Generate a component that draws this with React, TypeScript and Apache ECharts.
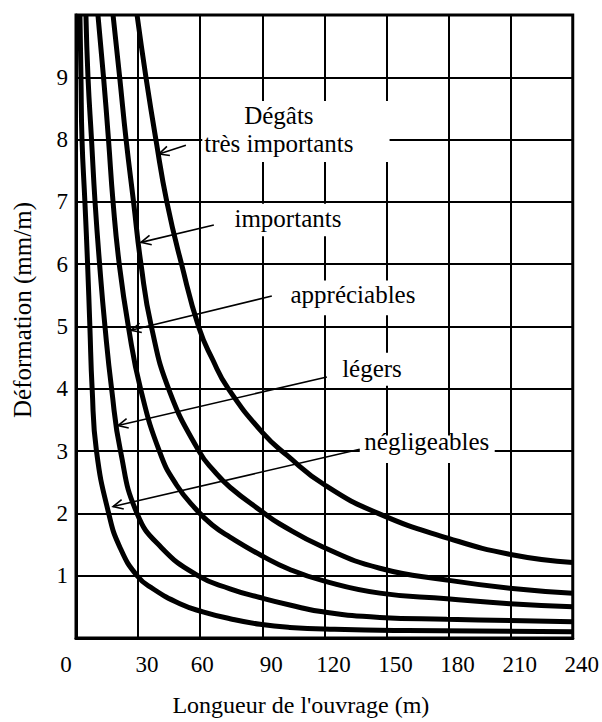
import React, { useEffect, useRef } from "react";
import * as echarts from "echarts";

// ---- Data ----
const xTickValues = [0, 30, 60, 90, 120, 150, 180, 210, 240];
const yTickValues = [1, 2, 3, 4, 5, 6, 7, 8, 9];

const negligeables: [number, number][] = [
  [1.9, 10], [2.4, 9], [2.9, 8], [4.3, 7], [5.6, 6], [6.7, 5], [7.8, 4], [9.9, 3],
  [15.8, 2], [21.3, 1.45], [29.5, 1], [37.2, 0.79], [50.2, 0.55], [61.3, 0.42], [74.4, 0.31],
  [88.9, 0.22], [103.3, 0.17], [125, 0.14], [160, 0.12], [240, 0.1],
];
const legers: [number, number][] = [
  [4.8, 10], [5.8, 9], [7.5, 8], [9.2, 7], [11.4, 6], [14, 5], [17.2, 4], [21.5, 3],
  [29.5, 2], [41.3, 1.45], [58.9, 1], [74.4, 0.79], [88.9, 0.65], [103.3, 0.53], [119.3, 0.42],
  [146.8, 0.33], [179.2, 0.3], [209.6, 0.28], [240, 0.26],
];
const appreciables: [number, number][] = [
  [10.6, 10], [13.3, 9], [15.7, 8], [17.9, 7], [20.9, 6], [25.3, 5], [31.2, 4], [40.6, 2.97],
  [48.5, 2.46], [58.4, 2.05], [66, 1.81], [74.4, 1.62], [89.8, 1.32], [103.3, 1.1], [119.3, 0.92],
  [146.8, 0.72], [179.2, 0.63], [209.6, 0.55], [240, 0.5],
];
const importants: [number, number][] = [
  [17.9, 10], [21.1, 9], [24.2, 8], [27.8, 7], [31.4, 6], [36.4, 5], [45.2, 3.96], [59.4, 3],
  [67, 2.67], [74.4, 2.42], [89.8, 2.03], [98.5, 1.83], [119.3, 1.46], [146.8, 1.12],
  [179.2, 0.93], [209.6, 0.8], [240, 0.72],
];
const tresImportants: [number, number][] = [
  [29.5, 10], [33.8, 9], [38.6, 8], [43.9, 7], [51.0, 6], [59.4, 4.98], [66, 4.47], [73.4, 4.01],
  [90, 3.3], [102, 2.93], [120, 2.46], [146, 2.0], [180, 1.6], [210, 1.34], [240, 1.21],
];

const curveNames = ["négligeables", "légers", "appréciables", "importants", "très importants"];
const curves = [negligeables, legers, appreciables, importants, tresImportants];

// ---- Annotations (data coordinates) ----
const labelTexts = ["Dégâts\ntrès importants", "importants", "appréciables", "légers", "négligeables"];
const labelAnchors: [number, number][] = [[98, 8.16], [102.4, 6.73], [133.8, 5.52], [143, 4.32], [169.5, 3.16]];
const boxCorners: [number, number][][] = [
  [[61, 8.62], [151.5, 7.64]],
  [[73, 6.97], [132, 6.45]],
  [[98.5, 5.74], [168.5, 5.18]],
  [[124.1, 4.58], [162.3, 4.05]],
  [[137.1, 3.25], [202.3, 2.81]],
];
const arrowStarts: [number, number][] = [[53.1, 7.91], [66.6, 6.63], [94.6, 5.49], [121.2, 4.19], [137.1, 3.03]];
const arrowTips: [number, number][] = [[40.1, 7.77], [31.4, 6.35], [26.6, 4.94], [20.3, 3.41], [17.9, 2.11]];

const FONT = "Liberation Serif";

export default function App() {
  const ref = useRef<HTMLDivElement>(null);

  useEffect(() => {
    if (!ref.current) return;
    const chart = echarts.init(ref.current, null, { renderer: "svg" });

    const option: any = {
      animation: false,
      backgroundColor: "#fff",
      grid: { left: 76, right: 29, top: 15, height: 627, show: true, borderColor: "#000", borderWidth: 3 },
      xAxis: {
        type: "value",
        min: 0,
        max: 240,
        interval: 30,
        name: "Longueur de l'ouvrage (m)",
        nameLocation: "middle",
        nameGap: 55,
        nameTextStyle: { fontFamily: FONT, fontSize: 24, color: "#000", padding: [0, 47, 0, 0] },
        axisLine: { show: true, lineStyle: { color: "#000", width: 3 } },
        axisTick: { show: false },
        splitLine: { show: true, lineStyle: { color: "#000", width: 2 } },
        axisLabel: {
          margin: 15,
          color: "#000",
          fontFamily: FONT,
          fontSize: 23,
          formatter: (v: number) => {
            if (!xTickValues.includes(v)) return "";
            if (v === 0) return `{a|${v}}`;
            if (v === 60) return `{b|${v}}`;
            return `{c|${v}}`;
          },
          rich: {
            a: { fontFamily: FONT, fontSize: 23, color: "#000", padding: [0, 20, 0, 0] },
            b: { fontFamily: FONT, fontSize: 23, color: "#000", padding: [0, 0, 0, 4] },
            c: { fontFamily: FONT, fontSize: 23, color: "#000", padding: [0, 0, 0, 18] },
          },
        },
      },
      yAxis: {
        type: "value",
        min: 0,
        max: 10,
        interval: 1,
        name: "Déformation (mm/m)",
        nameLocation: "middle",
        nameGap: 41,
        nameTextStyle: { fontFamily: FONT, fontSize: 25, color: "#000", padding: [0, 0, 0, 33] },
        axisLine: { show: true, lineStyle: { color: "#000", width: 3 } },
        axisTick: { show: false },
        splitLine: { show: true, lineStyle: { color: "#000", width: 2 } },
        axisLabel: {
          margin: 8,
          color: "#000",
          fontFamily: FONT,
          fontSize: 23,
          formatter: (v: number) => (yTickValues.includes(v) ? String(v) : ""),
        },
      },
      series: curves.map((data, i) => ({
        name: curveNames[i],
        type: "line",
        data,
        showSymbol: false,
        smooth: 0.5,
        clip: true,
        z: 5,
        lineStyle: { color: "#000", width: 5 },
      })),
    };

    chart.setOption(option);

    const toPx = (p: [number, number]) => chart.convertToPixel({ gridIndex: 0 }, p) as number[];
    const elements: any[] = [];
    labelTexts.forEach((text, i) => {
      const c1 = toPx(boxCorners[i][0]);
      const c2 = toPx(boxCorners[i][1]);
      elements.push({
        type: "rect",
        z: 20,
        shape: {
          x: Math.min(c1[0], c2[0]),
          y: Math.min(c1[1], c2[1]),
          width: Math.abs(c2[0] - c1[0]),
          height: Math.abs(c2[1] - c1[1]),
        },
        style: { fill: "#fff" },
      });
      const a = toPx(labelAnchors[i]);
      elements.push({
        type: "text",
        z: 21,
        x: a[0],
        y: a[1],
        style: {
          text,
          fill: "#000",
          fontFamily: FONT,
          fontSize: 25,
          lineHeight: 28,
          align: "center",
          verticalAlign: "middle",
        },
      });
      const s = toPx(arrowStarts[i]);
      const t = toPx(arrowTips[i]);
      elements.push({
        type: "line",
        z: 22,
        shape: { x1: s[0], y1: s[1], x2: t[0], y2: t[1] },
        style: { stroke: "#000", lineWidth: 1.6 },
      });
      const ang = Math.atan2(s[1] - t[1], s[0] - t[0]);
      const L = 11;
      const spread = 0.45;
      elements.push({
        type: "polyline",
        z: 22,
        shape: {
          points: [
            [t[0] + L * Math.cos(ang + spread), t[1] + L * Math.sin(ang + spread)],
            [t[0], t[1]],
            [t[0] + L * Math.cos(ang - spread), t[1] + L * Math.sin(ang - spread)],
          ],
        },
        style: { stroke: "#000", lineWidth: 1.6, fill: null },
      });
    });
    chart.setOption({ graphic: elements });

    return () => chart.dispose();
  }, []);

  return <div ref={ref} style={{ width: 602, height: 722, position: "absolute", left: 0, top: 0 }} />;
}
